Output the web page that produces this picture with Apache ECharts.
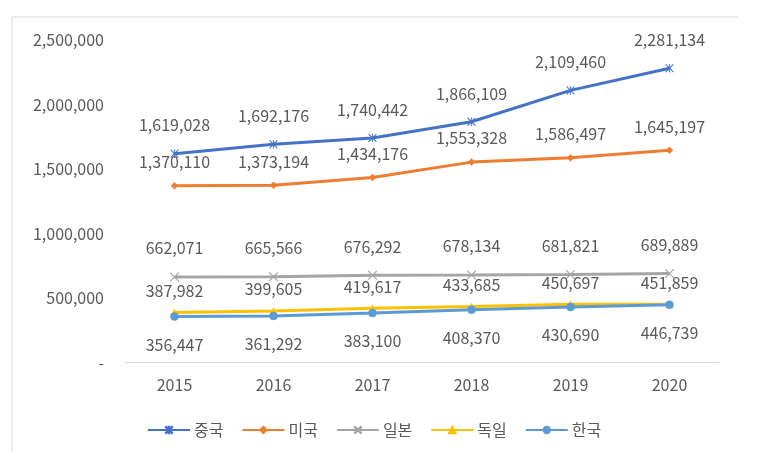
<!DOCTYPE html>
<html>
<head>
<meta charset="utf-8">
<script src="https://cdn.jsdelivr.net/npm/echarts@6/dist/echarts.min.js"></script>
<style>
  html, body { margin: 0; padding: 0; background: #fff; }
  #chart { width: 763px; height: 466px; }
</style>
</head>
<body>
<div id="chart"></div>
<script>
var years = ['2015', '2016', '2017', '2018', '2019', '2020']
var china = [1619028, 1692176, 1740442, 1866109, 2109460, 2281134]
var usa = [1370110, 1373194, 1434176, 1553328, 1586497, 1645197]
var japan = [662071, 665566, 676292, 678134, 681821, 689889]
var germany = [387982, 399605, 419617, 433685, 450697, 451859]
var korea = [356447, 361292, 383100, 408370, 430690, 446739]
var yTicks = [0, 500000, 1000000, 1500000, 2000000, 2500000]

var font = '"Noto Sans CJK KR", "Noto Sans", sans-serif'
var textColor = '#595959'

// 별표 / 엑스 마커
var starPath = 'path://M4.6,0 h0.8 v10 h-0.8 z M0,0.6 L0.6,0 L10,9.4 L9.4,10 z M9.4,0 L10,0.6 L0.6,10 L0,9.4 z'
var crossPath = 'path://M0,0.6 L0.6,0 L10,9.4 L9.4,10 z M9.4,0 L10,0.6 L0.6,10 L0,9.4 z'

function fmt(v) {
  return Number(v).toLocaleString('en-US')
}

function makeSeries(name, data, color, symbol, size, pos, dist) {
  return {
    name: name,
    type: 'line',
    data: data,
    symbol: symbol,
    symbolSize: size,
    showAllSymbol: true,
    lineStyle: { width: 3, color: color },
    itemStyle: { color: color, borderColor: color, borderWidth: 0.5 },
    label: {
      show: true,
      position: pos,
      distance: dist,
      color: textColor,
      fontFamily: font,
      fontSize: 16,
      formatter: function(p) { return fmt(p.value) }
    },
    emphasis: { disabled: true }
  }
}

var myChart = echarts.init(document.getElementById('chart'))
var option = {
  animation: false,
  textStyle: { fontFamily: font },
  graphic: [{
    type: 'polyline',
    shape: { points: [[12, 452], [12, 17], [738, 17]] },
    style: { stroke: '#d9d9d9', lineWidth: 1, fill: null },
    silent: true
  }],
  grid: {
    left: 125,
    right: 44,
    top: 40,
    bottom: 103.5
  },
  legend: {
    left: 142,
    top: 417,
    itemWidth: 42,
    itemHeight: 8,
    itemGap: 18,
    textStyle: { color: textColor, fontSize: 16, fontFamily: font, padding: [0, 0, 0, -1] },
    data: ['중국', '미국', '일본', '독일', '한국']
  },
  xAxis: {
    type: 'category',
    data: years,
    boundaryGap: true,
    axisLine: { lineStyle: { color: '#d9d9d9', width: 1 } },
    axisTick: { show: false },
    axisLabel: { color: textColor, fontSize: 16, margin: 14 }
  },
  yAxis: {
    type: 'value',
    min: yTicks[0],
    max: yTicks[yTicks.length - 1],
    interval: yTicks[1] - yTicks[0],
    splitLine: { show: false },
    axisLine: { show: false },
    axisTick: { show: false },
    axisLabel: {
      color: textColor,
      fontSize: 16,
      margin: 21,
      formatter: function(v) { return v === 0 ? '-' : fmt(v) }
    }
  },
  series: [
    makeSeries('중국', china, '#4472c4', starPath, 8, 'top', 16),
    makeSeries('미국', usa, '#ed7d31', 'diamond', 7, 'top', 12),
    makeSeries('일본', japan, '#a5a5a5', crossPath, 9, 'top', 16),
    makeSeries('독일', germany, '#ffc000', 'triangle', 7, 'top', 10),
    makeSeries('한국', korea, '#5b9bd5', 'circle', 8, 'bottom', 16)
  ]
}

myChart.setOption(option)
</script>
</body>
</html>
